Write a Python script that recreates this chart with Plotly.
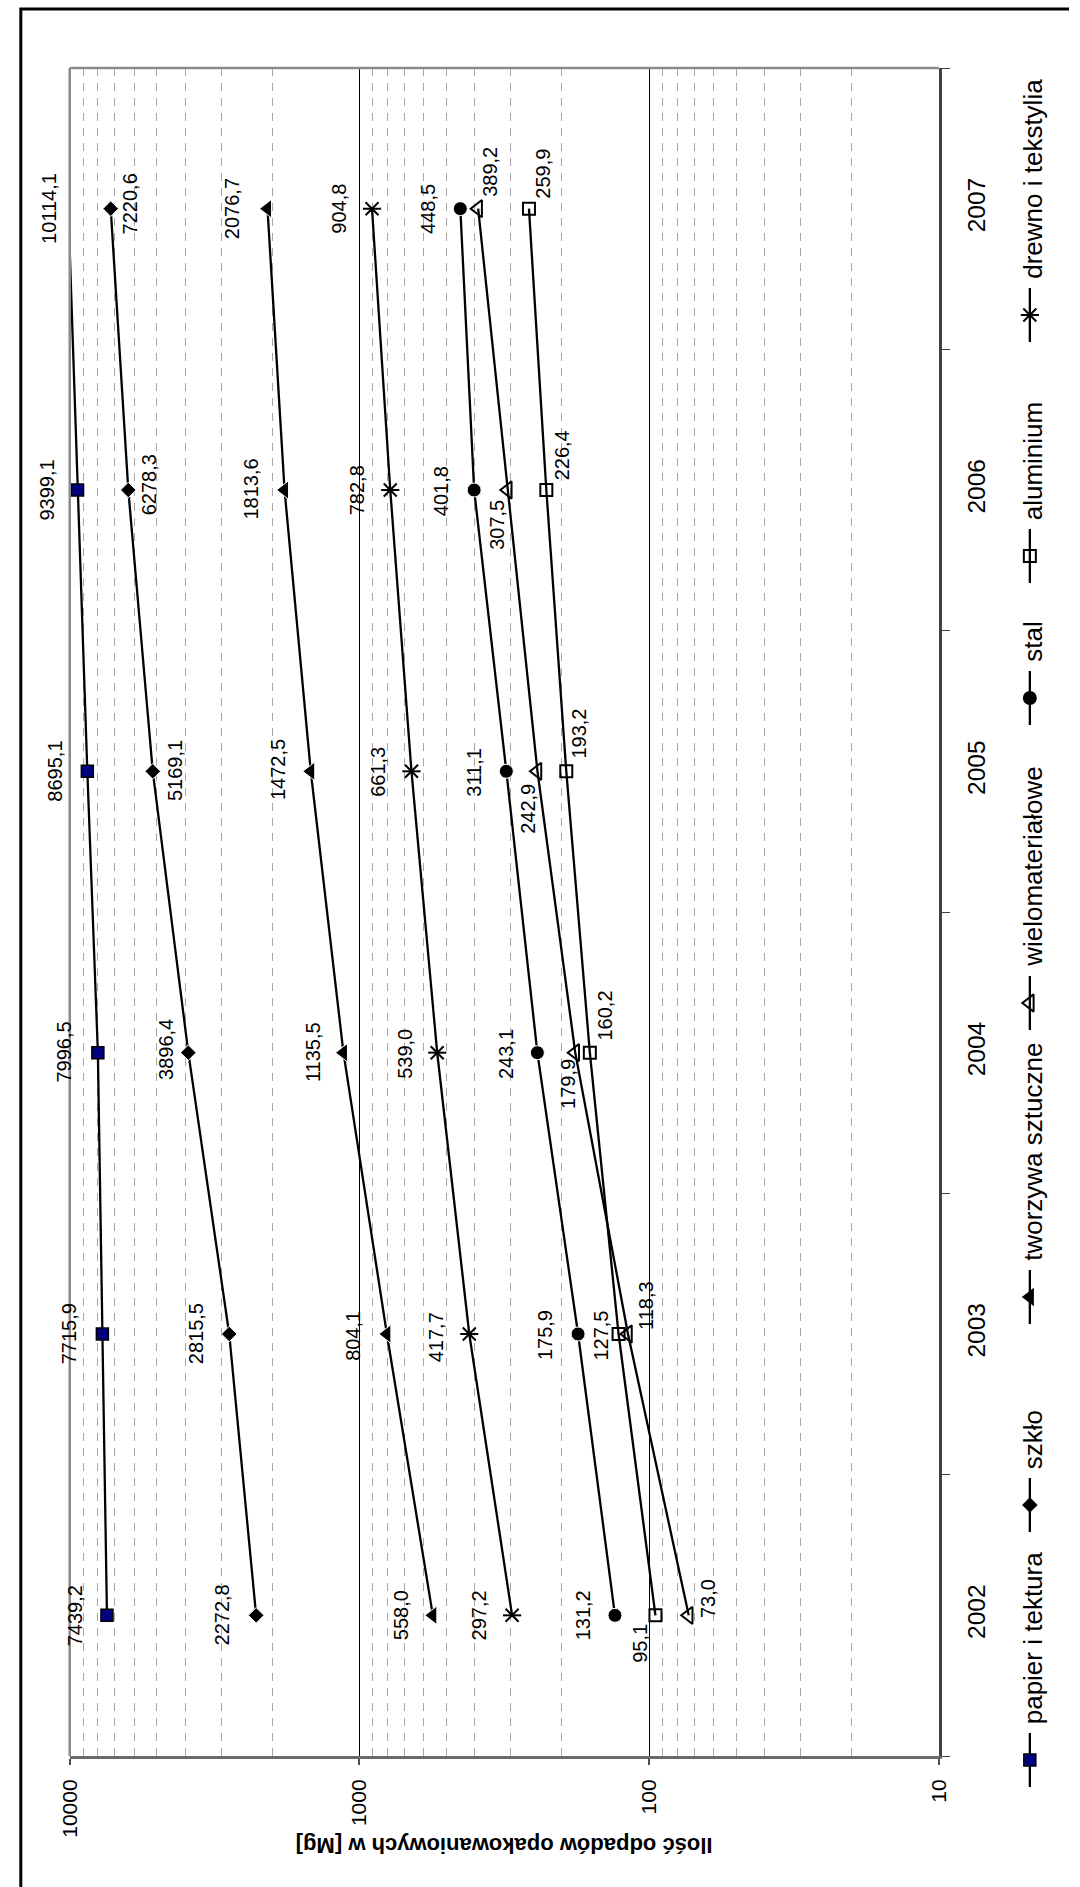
import math
import plotly.graph_objects as go

# ---------------- data ----------------
years = ["2002", "2003", "2004", "2005", "2006", "2007"]
papier = [7439.2, 7715.9, 7996.5, 8695.1, 9399.1, 10114.1]
szklo = [2272.8, 2815.5, 3896.4, 5169.1, 6278.3, 7220.6]
tworzywa = [558.0, 804.1, 1135.5, 1472.5, 1813.6, 2076.7]
wielomaterialowe = [73.0, 118.3, 179.9, 242.9, 307.5, 389.2]
stal = [131.2, 175.9, 243.1, 311.1, 401.8, 448.5]
aluminium = [95.1, 127.5, 160.2, 193.2, 226.4, 259.9]
drewno = [297.2, 417.7, 539.0, 661.3, 782.8, 904.8]
names = ["papier i tektura", "szkło", "tworzywa sztuczne", "wielomateriałowe",
         "stal", "aluminium", "drewno i tekstylia"]
value_ticks = [10, 100, 1000, 10000]
axis_title = "Ilość odpadów opakowaniowych w [Mg]"

# ---------------- layout geometry (pixels) ----------------
W, H = 1080, 1887
L, R, T, B = 59, 947, 68, 1756
VMIN, VMAX = 10, 10000
FONT = "Liberation Sans, Arial, sans-serif"

# per-point label offsets (dx, dy in px, dy positive = down)
label_offsets = {
    "papier i tektura": [(-32, 0), (-33, 0), (-34, -1), (-32, 0), (-31, 0), (-20, 0)],
    "szkło": [(-34, 0), (-33, 0), (-23, -3), (23, -1), (21, -5), (19, -5)],
    "tworzywa sztuczne": [(-32, 0), (-34, 2), (-31, -1), (-32, -2), (-34, -1), (-36, 0)],
    "wielomateriałowe": [(20, -17), (18, -29), (-8, 31), (-9, 37), (-11, 35), (12, -37)],
    "stal": [(-32, 0), (-33, 1), (-32, 1), (-32, 1), (-33, 1), (-33, 0)],
    "aluminium": [(-15, 28), (-18, 2), (15, -37), (13, -38), (16, -35), (14, -35)],
    "drewno i tekstylia": [(-33, 0), (-33, 3), (-33, 1), (-33, 0), (-33, 0), (-33, 0)],
}

styles = {
    "papier i tektura": dict(symbol="square", size=12, color="#000080",
                             line=dict(color="black", width=1.5), opacity=1),
    "szkło": dict(symbol="diamond", size=12, color="black", opacity=1),
    "tworzywa sztuczne": dict(symbol="triangle-left", size=16, color="black",
                              opacity=1),
    "wielomateriałowe": dict(symbol="triangle-left-open", size=15, color="black",
                             line=dict(color="black", width=2), opacity=1),
    "stal": dict(symbol="circle", size=14, color="black", opacity=1),
    "aluminium": dict(symbol="square-open", size=12, color="black",
                      line=dict(color="black", width=2), opacity=1),
    "drewno i tekstylia": dict(symbol="x-thin-open", size=13, color="black",
                               line=dict(color="black", width=2), opacity=1),
}
star_bar = dict(symbol="line-ew-open", size=13, color="black",
                line=dict(color="black", width=2), opacity=1)

legend_marker_y = {
    "papier i tektura": 1760, "szkło": 1505, "tworzywa sztuczne": 1297,
    "wielomateriałowe": 1003, "stal": 698, "aluminium": 556,
    "drewno i tekstylia": 315,
}
LEG_X = 1040

values = [papier, szklo, tworzywa, wielomaterialowe, stal, aluminium, drewno]

fig = go.Figure()
for name, vals in zip(names, values):
    st = dict(styles[name])
    # points beyond the value axis are not drawn (only the connecting line)
    st["size"] = [st["size"] if VMIN <= v <= VMAX else 0 for v in vals]
    fig.add_trace(go.Scatter(
        x=vals, y=years, mode="lines+markers", name=name,
        line=dict(color="black", width=2.3),
        marker=st, showlegend=False, hoverinfo="skip"))
    if name == "drewno i tekstylia":
        fig.add_trace(go.Scatter(
            x=vals, y=years, mode="markers", showlegend=False, hoverinfo="skip",
            marker=star_bar))

# ---------------- data labels ----------------
annotations = []
for name, vals in zip(names, values):
    for i, v in enumerate(vals):
        dx, dy = label_offsets[name][i]
        txt = f"{v:.1f}".replace(".", ",")
        lv = math.log10(v)
        if VMIN <= v <= VMAX:
            ax = dict(xref="x", x=lv)
        else:
            frac = (math.log10(VMAX) - lv) / (math.log10(VMAX) - math.log10(VMIN))
            ax = dict(xref="x domain", x=frac)
        annotations.append(dict(
            **ax, yref="y", y=i, text=txt, showarrow=False,
            textangle=-90, xanchor="center", yanchor="middle",
            xshift=dx, yshift=-dy,
            font=dict(family=FONT, size=20, color="black")))

# ---------------- legend (drawn manually, rotated) ----------------
for name in names:
    my = legend_marker_y[name]
    fig.add_trace(go.Scatter(
        x=[LEG_X, LEG_X], y=[my + 27, my - 27], mode="lines",
        line=dict(color="black", width=2.3), xaxis="x2", yaxis="y2",
        cliponaxis=False, showlegend=False, hoverinfo="skip"))
    fig.add_trace(go.Scatter(
        x=[LEG_X], y=[my], mode="markers", marker=styles[name],
        xaxis="x2", yaxis="y2", cliponaxis=False, showlegend=False,
        hoverinfo="skip"))
    if name == "drewno i tekstylia":
        fig.add_trace(go.Scatter(
            x=[LEG_X], y=[my], mode="markers", marker=star_bar,
            xaxis="x2", yaxis="y2", cliponaxis=False, showlegend=False,
            hoverinfo="skip"))
    annotations.append(dict(
        xref="x2", yref="y2", x=LEG_X + 3, y=my - 34,
        text=name, showarrow=False, textangle=-90,
        xanchor="center", yanchor="bottom",
        font=dict(family=FONT, size=26, color="black")))

# axis title (upside down)
annotations.append(dict(
    xref="x2", yref="y2", x=(L + R) / 2, y=1846, text=f"<b>{axis_title}</b>",
    showarrow=False, textangle=180, xanchor="center", yanchor="middle",
    font=dict(family=FONT, size=22, color="black")))

minor_vals = [m * 10 ** e for e in range(1, 4) for m in range(2, 10)]

shapes = [
    dict(type="rect", xref="x2", yref="y2", x0=9, x1=1300, y0=9, y1=2100,
         line=dict(color="black", width=3)),
    dict(type="line", xref="x2", yref="y2", x0=L, x1=R, y0=T, y1=T,
         line=dict(color="#8a8a8a", width=2.5)),
    dict(type="line", xref="x2", yref="y2", x0=L, x1=L, y0=T, y1=B,
         line=dict(color="#8a8a8a", width=2.5)),
]

fig.update_layout(
    width=W, height=H,
    margin=dict(l=0, r=0, t=0, b=0, pad=0),
    paper_bgcolor="white", plot_bgcolor="rgba(0,0,0,0)",
    font=dict(family=FONT, color="black"),
    xaxis=dict(
        domain=[L / W, R / W], anchor="y",
        type="log", range=[math.log10(VMAX), math.log10(VMIN)],
        tickvals=value_ticks, ticktext=[str(v) for v in value_ticks],
        tickangle=-90, ticks="outside", ticklen=6, tickwidth=1.5,
        tickcolor="#505050",
        tickfont=dict(size=21, family=FONT, color="black"),
        showgrid=True, gridcolor="black", gridwidth=1,
        minor=dict(tickvals=minor_vals, showgrid=True, gridcolor="#a6a6a6",
                   griddash="8px,7px", gridwidth=1, ticks=""),
        showline=True, linecolor="#6a6a6a", linewidth=3,
        zeroline=False, fixedrange=True, ticklabelstandoff=6),
    yaxis=dict(
        domain=[1 - B / H, 1 - T / H], anchor="x",
        type="category", categoryorder="array", categoryarray=years,
        range=[-0.5, 5.5], side="right", tickangle=-90,
        tickson="boundaries", ticks="outside", ticklen=8, tickwidth=1.2,
        tickcolor="#404040", showgrid=False,
        tickfont=dict(size=24.5, family=FONT, color="black"),
        showline=True, linecolor="#404040", linewidth=3,
        zeroline=False, fixedrange=True, ticklabelstandoff=14),
    xaxis2=dict(domain=[0, 1], range=[0, W], visible=False, anchor="y2",
                fixedrange=True),
    yaxis2=dict(domain=[0, 1], range=[H, 0], visible=False, anchor="x2",
                fixedrange=True),
    annotations=annotations,
    shapes=shapes,
    showlegend=False,
)

fig.write_html("out.html", config={"displayModeBar": False},
               post_script="document.body.style.margin='0';")
